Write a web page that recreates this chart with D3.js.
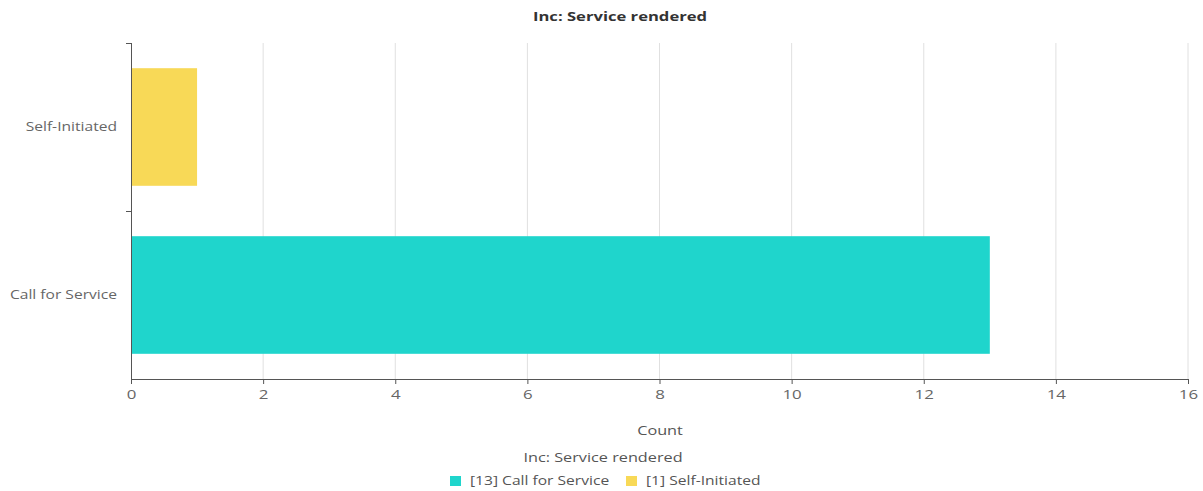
<!DOCTYPE html>
<html>
<head>
<meta charset="utf-8">
<script src="https://cdn.jsdelivr.net/npm/d3@7"></script>
<style>
  html, body { margin: 0; padding: 0; background: #fff; }
  svg { display: block; font-family: "Open Sans", "Noto Sans", sans-serif; }
</style>
</head>
<body>
<svg id="chart" width="1203" height="491"></svg>
<script>
// Incidents by how the service was rendered
const categories = ["Self-Initiated", "Call for Service"];
const counts = [1, 13];
const colors = ["#f8d957", "#1fd5cc"];
const xTicks = [0, 2, 4, 6, 8, 10, 12, 14, 16];
const legendOrder = ["Call for Service", "Self-Initiated"];

const svg = d3.select("#chart");
const margin = { left: 131, right: 15, top: 43, bottom: 112 };
const W = 1203, H = 491;
const SX = 1.3; // wide text rendering

const x = d3.scaleLinear().domain([0, 16]).range([margin.left, W - margin.right]);
const y = d3.scaleBand().domain(categories).range([margin.top, H - margin.bottom])
  .paddingInner(0.3).paddingOuter(0.15);

// place a text at (px, py) with horizontal widening
function wideText(sel, px, py, sx = SX) {
  return sel.attr("transform", `translate(${px},${py}) scale(${sx},1)`);
}

// title
wideText(svg.append("text"), 620, 21, 1.33)
  .attr("text-anchor", "middle")
  .attr("font-size", 12.5).attr("font-weight", "bold").attr("fill", "#333")
  .text("Inc: Service rendered");

// vertical grid lines
svg.append("g").selectAll("line")
  .data(xTicks.filter(d => d > 0))
  .join("line")
  .attr("x1", d => x(d)).attr("x2", d => x(d))
  .attr("y1", margin.top).attr("y2", H - margin.bottom)
  .attr("stroke", "#e0e0e0").attr("stroke-width", 1);

// bars
svg.append("g").selectAll("rect")
  .data(categories)
  .join("rect")
  .attr("x", x(0))
  .attr("y", d => y(d))
  .attr("width", (d, i) => x(counts[i]) - x(0))
  .attr("height", y.bandwidth())
  .attr("fill", (d, i) => colors[i]);

// x axis
const xAxis = svg.append("g")
  .attr("transform", `translate(0,${H - margin.bottom})`)
  .call(d3.axisBottom(x).tickValues(xTicks).tickSize(5).tickPadding(6));
xAxis.select(".domain").attr("stroke", "#555");
xAxis.selectAll(".tick line").attr("stroke", "#555");
xAxis.selectAll(".tick text")
  .attr("fill", "#666").attr("font-size", 12.5)
  .attr("font-family", "\"Open Sans\", \"Noto Sans\", sans-serif")
  .each(function () {
    const t = d3.select(this);
    wideText(t, 0, +t.attr("y"), 1.35).attr("y", null);
  });

// y axis with ticks at band boundaries
const yAxisG = svg.append("g").attr("transform", `translate(${x(0)},0)`);
yAxisG.append("line")
  .attr("x1", 0.5).attr("x2", 0.5)
  .attr("y1", margin.top).attr("y2", H - margin.bottom)
  .attr("stroke", "#555");
const bounds = [margin.top, margin.top + (H - margin.top - margin.bottom) / 2];
yAxisG.selectAll("line.tk").data(bounds).join("line")
  .attr("class", "tk")
  .attr("x1", -5).attr("x2", 0)
  .attr("y1", d => d + 0.5).attr("y2", d => d + 0.5)
  .attr("stroke", "#555");
yAxisG.selectAll("text").data(categories).join("text")
  .attr("transform", d => `translate(-14,${y(d) + y.bandwidth() / 2}) scale(${SX},1)`)
  .attr("dy", "0.35em")
  .attr("text-anchor", "end")
  .attr("font-size", 12).attr("fill", "#666")
  .text(d => d);

// axis name
wideText(svg.append("text"), 660, 435)
  .attr("text-anchor", "middle")
  .attr("font-size", 12.5).attr("fill", "#555")
  .text("Count");

// legend
wideText(svg.append("text"), 603, 462)
  .attr("text-anchor", "middle")
  .attr("font-size", 12.5).attr("fill", "#555")
  .text("Inc: Service rendered");

const legendItems = legendOrder.map(name => {
  const i = categories.indexOf(name);
  return { label: `[${counts[i]}] ${name}`, color: colors[i] };
});
const lx = [450, 626];
const lg = svg.append("g").selectAll("g").data(legendItems).join("g")
  .attr("transform", (d, i) => `translate(${lx[i]},476)`);
lg.append("rect").attr("width", 11).attr("height", 10).attr("fill", d => d.color);
lg.append("text")
  .attr("transform", `translate(20,5) scale(${SX},1)`)
  .attr("dy", "0.35em")
  .attr("font-size", 12).attr("fill", "#555").text(d => d.label);
</script>
</body>
</html>
